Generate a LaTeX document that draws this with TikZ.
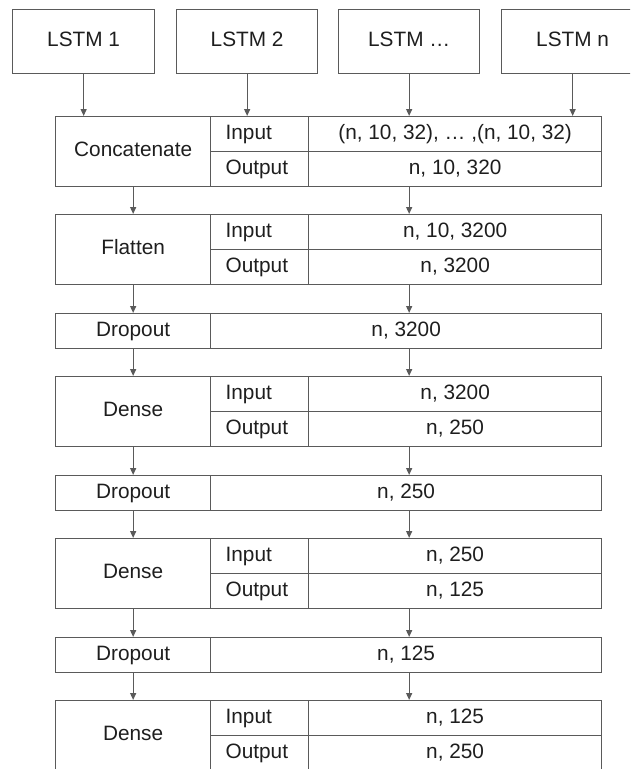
\documentclass[tikz,border=0pt]{standalone}
\usepackage{fontspec}
\setmainfont{Liberation Sans}
\usetikzlibrary{arrows.meta}
\definecolor{lc}{HTML}{5A5A5A}
\definecolor{tc}{HTML}{1E1E1E}
\newcommand\twolayer[5]{%
  \node[cell,minimum width=155pt,minimum height=70pt] (#1A) at (55,#2) {#3};
  \node[lab] (#1I) at (210,#2) {Input};
  \node[cell,minimum width=293pt,minimum height=35pt] (#1IV) at (308,#2) {#4};
  \node[lab] (#1O) at (210,#2+35) {Output};
  \node[cell,minimum width=293pt,minimum height=35pt] (#1OV) at (308,#2+35) {#5};}
\newcommand\droplayer[3]{%
  \node[cell,minimum width=155pt,minimum height=35pt] (#1A) at (55,#2) {Dropout};
  \node[cell,minimum width=391pt,minimum height=35pt] (#1V) at (210,#2) {#3};}
\begin{document}
\begin{tikzpicture}[x=1pt,y=-1pt,
  cell/.style={draw=lc,line width=1.3pt,inner sep=0pt,anchor=north west,text=tc,
    text height=14pt,text depth=4pt,font=\fontsize{20.8}{24}\selectfont},
  lab/.style={cell,align=left,text width=68pt,inner xsep=15pt,minimum width=98pt,minimum height=35pt},
  arr/.style={draw=lc,line width=1.3pt,-{Triangle[length=7pt,width=6pt]}}]
\useasboundingbox (0,0) rectangle (630,769);
\clip (0,0) rectangle (630,769);
% LSTM boxes
\node[cell,minimum width=142pt,minimum height=64pt] (l1) at (12,9) {LSTM 1};
\node[cell,minimum width=141pt,minimum height=64pt] (l2) at (176,9) {LSTM 2};
\node[cell,minimum width=141pt,minimum height=64pt] (l3) at (338,9) {LSTM \dots};
\node[cell,minimum width=142pt,minimum height=64pt] (l4) at (501,9) {LSTM n};
% layers
\twolayer{conc}{116}{Concatenate}{(n, 10, 32), … ,(n, 10, 32)}{n, 10, 320}
\twolayer{flat}{214}{Flatten}{n, 10, 3200}{n, 3200}
\droplayer{dropa}{313}{n, 3200}
\twolayer{densea}{376}{Dense}{n, 3200}{n, 250}
\droplayer{dropb}{475}{n, 250}
\twolayer{denseb}{538}{Dense}{n, 250}{n, 125}
\droplayer{dropc}{637}{n, 125}
\twolayer{densec}{700}{Dense}{n, 125}{n, 250}
% arrows from LSTMs
\draw[arr] (l1.south) -- (l1.south |- concA.north);
\draw[arr] (l2.south) -- (l2.south |- concI.north);
\draw[arr] (l3.south) -- (l3.south |- concIV.north);
\draw[arr] (l4.south) -- (l4.south |- concIV.north);
% arrows between layers
\draw[arr] (concA.south) -- (flatA.north);
\draw[arr] (l3.south |- concOV.south) -- (l3.south |- flatIV.north);
\draw[arr] (flatA.south) -- (dropaA.north);
\draw[arr] (l3.south |- flatOV.south) -- (l3.south |- dropaV.north);
\draw[arr] (dropaA.south) -- (denseaA.north);
\draw[arr] (l3.south |- dropaV.south) -- (l3.south |- denseaIV.north);
\draw[arr] (denseaA.south) -- (dropbA.north);
\draw[arr] (l3.south |- denseaOV.south) -- (l3.south |- dropbV.north);
\draw[arr] (dropbA.south) -- (densebA.north);
\draw[arr] (l3.south |- dropbV.south) -- (l3.south |- densebIV.north);
\draw[arr] (densebA.south) -- (dropcA.north);
\draw[arr] (l3.south |- densebOV.south) -- (l3.south |- dropcV.north);
\draw[arr] (dropcA.south) -- (densecA.north);
\draw[arr] (l3.south |- dropcV.south) -- (l3.south |- densecIV.north);
\end{tikzpicture}
\end{document}
